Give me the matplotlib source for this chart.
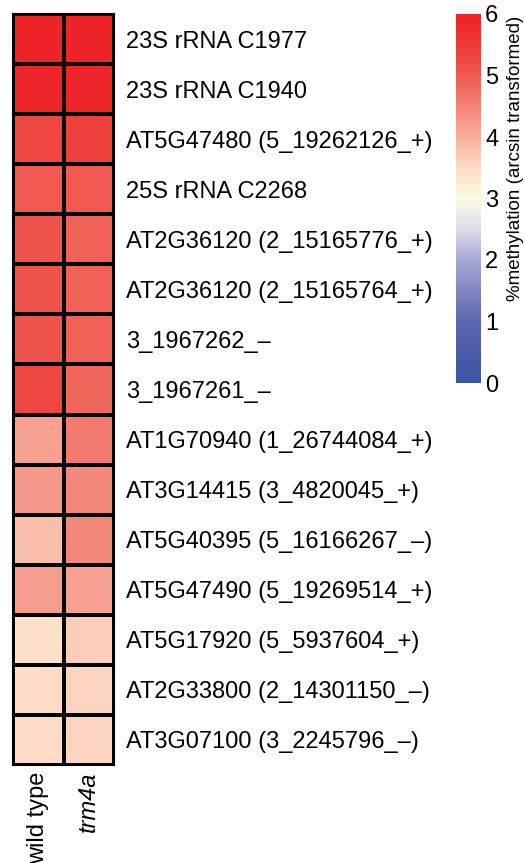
import numpy as np
import matplotlib
matplotlib.use("Agg")
import matplotlib.pyplot as plt
from matplotlib.colors import LinearSegmentedColormap

plt.rcParams['font.family'] = ['Liberation Sans', 'DejaVu Sans']

# data
sites = ["23S rRNA C1977", "23S rRNA C1940", "AT5G47480 (5_19262126_+)",
         "25S rRNA C2268", "AT2G36120 (2_15165776_+)", "AT2G36120 (2_15165764_+)",
         "3_1967262_\u2013", "3_1967261_\u2013", "AT1G70940 (1_26744084_+)",
         "AT3G14415 (3_4820045_+)", "AT5G40395 (5_16166267_\u2013)",
         "AT5G47490 (5_19269514_+)", "AT5G17920 (5_5937604_+)",
         "AT2G33800 (2_14301150_\u2013)", "AT3G07100 (3_2245796_\u2013)"]
wild_type = [5.95, 5.9, 5.3, 5.0, 5.1, 5.1, 5.1, 5.3, 4.15, 4.25, 3.8, 4.2, 3.4, 3.5, 3.5]
trm4a = [5.95, 5.9, 5.4, 5.0, 4.9, 4.9, 4.9, 4.85, 4.6, 4.45, 4.45, 4.15, 3.65, 3.6, 3.6]
samples = ["wild type", "trm4a"]
cbar_ticks = [0, 1, 2, 3, 4, 5, 6]

# colour ramp sampled from the reference colour bar (position on 0..6 scaled to 0..1)
ramp = [(0.0, "#3B53A3"), (1 / 6, "#5D66B0"), (2 / 6, "#A6A8D2"), (2.5 / 6, "#DDDDEB"),
        (3 / 6, "#FBFBE3"), (3.5 / 6, "#FDDCC6"), (4 / 6, "#F8AE9C"), (4.5 / 6, "#F38377"),
        (5 / 6, "#EF5A50"), (5.5 / 6, "#EE3C37"), (1.0, "#EE2126")]
cmap = LinearSegmentedColormap.from_list("meth", ramp)

data = np.column_stack([wild_type, trm4a])

fig = plt.figure(figsize=(5.25, 8.63), dpi=100)
W, H = 525, 863

ax = fig.add_axes([13 / W, 1 - 765 / H, 101 / W, 751 / H])
mesh = ax.pcolormesh(data, cmap=cmap, vmin=0, vmax=6, edgecolors="black", linewidth=1.5)
ax.set_xlim(0, 2)
ax.set_ylim(len(sites), 0)
for s in ax.spines.values():
    s.set_linewidth(1.5)
ax.set_yticks(np.arange(len(sites)) + 0.5)
ax.set_yticklabels(sites, fontsize=17)
ax.yaxis.tick_right()
ax.tick_params(axis="y", length=0, pad=9)
ax.set_xticks(np.arange(2) + 0.5)
ax.set_xticklabels(samples, rotation=90, fontsize=17, va="top", ha="center")
ax.get_xticklabels()[1].set_style("italic")
ax.tick_params(axis="x", length=0, pad=5)

cax = fig.add_axes([456 / W, 1 - 383 / H, 25 / W, 369 / H])
cb = fig.colorbar(mesh, cax=cax, ticks=cbar_ticks)
cb.outline.set_visible(False)
cax.tick_params(length=0, labelsize=17, pad=3)
fig.text(515 / W, 1 - 158 / H, "%methylation (arcsin transformed)", rotation=90,
         fontsize=13.5, ha="center", va="center")

fig.savefig("out.png", dpi=100)
